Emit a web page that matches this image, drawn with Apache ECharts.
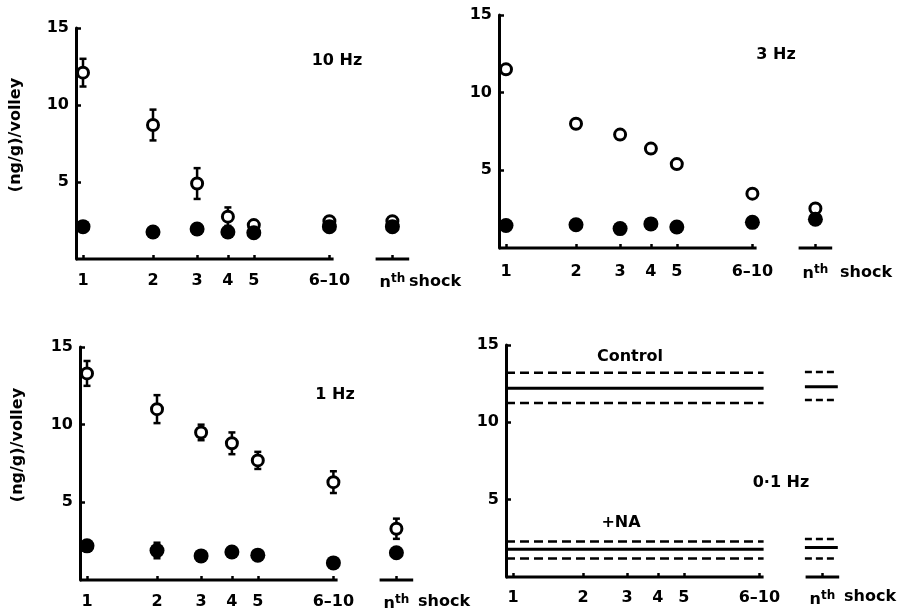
<!DOCTYPE html>
<html><head><meta charset="utf-8">
<script src="https://cdn.jsdelivr.net/npm/echarts@6/dist/echarts.min.js"></script>
<style>html,body{margin:0;padding:0;background:#fff}#c{width:901px;height:608px}</style>
</head><body><div id="c"></div>
<script>
// ---- categories / axis ----
const shockLabels = ['1', '2', '3', '4', '5', '6–10', 'nth shock'];
const shockAxisPos = [1, 2, 2.63, 3.07, 3.44, 4.52, 5.42];
const yTicks = [5, 10, 15];

// ---- 10 Hz ----
const hz10Open = [12.1, 8.7, 4.9, 2.75, 2.2, 2.45, 2.45];
const hz10OpenErr = [0.9, 1.0, 1.0, 0.6, 0, 0, 0];
const hz10Filled = [2.1, 1.75, 1.95, 1.75, 1.7, 2.1, 2.1];
const hz10FilledErr = [0, 0, 0, 0, 0, 0, 0];
// ---- 3 Hz ----
const hz3Open = [11.5, 8.0, 7.3, 6.4, 5.4, 3.5, 2.55];
const hz3OpenErr = [0, 0, 0, 0, 0, 0, 0];
const hz3Filled = [1.45, 1.5, 1.25, 1.55, 1.35, 1.65, 1.85];
const hz3FilledErr = [0, 0, 0, 0, 0, 0, 0];
// ---- 1 Hz ----
const hz1Open = [13.3, 11.0, 9.5, 8.8, 7.7, 6.3, 3.3];
const hz1OpenErr = [0.8, 0.9, 0.5, 0.7, 0.55, 0.7, 0.65];
const hz1Filled = [2.2, 1.9, 1.55, 1.8, 1.6, 1.1, 1.75];
const hz1FilledErr = [0, 0.5, 0, 0, 0, 0, 0];
// ---- 0.1 Hz (upper, mean, lower) ----
const controlBand = [13.2, 12.2, 11.25];
const controlBandNth = [13.25, 12.3, 11.45];
const naBand = [2.3, 1.8, 1.2];
const naBandNth = [2.45, 1.9, 1.2];

const FONT = 'DejaVu Sans';
const xMin = 0.9, xMax = 6.0;
const grids = [
  {left: 76, top: 28, width: 357, height: 231, outerBoundsMode: 'none'},
  {left: 499, top: 15, width: 357, height: 233, outerBoundsMode: 'none'},
  {left: 80, top: 347, width: 357, height: 233, outerBoundsMode: 'none'},
  {left: 506, top: 345, width: 357, height: 232, outerBoundsMode: 'none'}
];
const labelMargins = [14, 16, 14, 13];

function labelFor(v) {
  for (let i = 0; i < shockAxisPos.length; i++) {
    if (Math.abs(shockAxisPos[i] - v) < 1e-6) {
      if (i === 6) return '{b|n}{s|th}';
      return '{b|' + shockLabels[i] + '}';
    }
  }
  return '';
}

const xAxes = grids.map((g, i) => ({
  type: 'value', gridIndex: i, min: xMin, max: xMax,
  axisLine: {show: false},
  splitLine: {show: false},
  axisTick: {show: true, inside: true, length: 4, customValues: shockAxisPos,
    lineStyle: {color: '#000', width: 2.5}},
  axisLabel: {
    customValues: shockAxisPos, margin: labelMargins[i], formatter: labelFor, hideOverlap: false,
    rich: {
      b: {fontFamily: FONT, fontWeight: 'bold', fontSize: 16, color: '#000'},
      s: {fontFamily: FONT, fontWeight: 'bold', fontSize: 12, color: '#000', padding: [0, 0, 8, 0]}
    }
  }
}));
const yAxes = grids.map((g, i) => ({
  type: 'value', gridIndex: i, min: 0, max: 15, interval: 5,
  axisLine: {show: true, lineStyle: {color: '#000', width: 3}},
  splitLine: {show: false},
  axisTick: {show: true, inside: true, length: 5, customValues: yTicks,
    lineStyle: {color: '#000', width: 2.5}},
  axisLabel: {customValues: yTicks, margin: 7, color: '#000',
    fontFamily: FONT, fontWeight: 'bold', fontSize: 16}
}));

const series = [];
function errSeries(idx, vals, errs) {
  const data = [];
  vals.forEach((v, i) => { if (errs[i] > 0) data.push([shockAxisPos[i], v - errs[i], v + errs[i]]); });
  series.push({
    type: 'custom', xAxisIndex: idx, yAxisIndex: idx, z: 2, silent: true,
    data: data,
    renderItem: function (params, api) {
      const x = api.value(0);
      const lo = api.coord([x, api.value(1)]);
      const hi = api.coord([x, api.value(2)]);
      const w = 3.5;
      const st = {stroke: '#000', lineWidth: 2.5};
      return {type: 'group', children: [
        {type: 'line', shape: {x1: lo[0], y1: lo[1], x2: hi[0], y2: hi[1]}, style: st},
        {type: 'line', shape: {x1: lo[0] - w, y1: lo[1], x2: lo[0] + w, y2: lo[1]}, style: st},
        {type: 'line', shape: {x1: hi[0] - w, y1: hi[1], x2: hi[0] + w, y2: hi[1]}, style: st}
      ]};
    }
  });
}
function pointSeries(idx, vals, open) {
  series.push({
    type: 'scatter', xAxisIndex: idx, yAxisIndex: idx, silent: true,
    z: open ? 3 : 4,
    symbol: 'circle', symbolSize: open ? 11 : 15,
    itemStyle: open ? {color: '#fff', borderColor: '#000', borderWidth: 3, opacity: 1}
                    : {color: '#000', opacity: 1},
    data: vals.map((v, i) => [shockAxisPos[i], v])
  });
}
function axisSegments(idx) {
  const common = {type: 'line', xAxisIndex: idx, yAxisIndex: idx, symbol: 'none', silent: true,
    clip: false, z: 5, lineStyle: {color: '#000', width: 3}};
  series.push(Object.assign({}, common, {data: [[xMin, 0], [shockAxisPos[5] + 0.06, 0]]}));
  series.push(Object.assign({}, common, {data: [[shockAxisPos[6] - 0.24, 0], [shockAxisPos[6] + 0.24, 0]]}));
}
function bandSeries(idx, band, bandNth) {
  band.forEach((v, k) => {
    const dashed = k !== 1;
    const ls = {color: '#000', width: dashed ? 2.5 : 3, type: dashed ? [9, 5] : 'solid'};
    series.push({type: 'line', xAxisIndex: idx, yAxisIndex: idx, symbol: 'none', silent: true,
      lineStyle: ls, data: [[xMin, v], [shockAxisPos[5] + 0.06, v]]});
    series.push({type: 'line', xAxisIndex: idx, yAxisIndex: idx, symbol: 'none', silent: true,
      lineStyle: Object.assign({}, ls, {type: dashed ? [7, 4] : 'solid'}),
      data: [[shockAxisPos[6] - 0.25, bandNth[k]], [shockAxisPos[6] + 0.22, bandNth[k]]]});
  });
}

errSeries(0, hz10Open, hz10OpenErr); errSeries(0, hz10Filled, hz10FilledErr);
pointSeries(0, hz10Open, true); pointSeries(0, hz10Filled, false); axisSegments(0);
errSeries(1, hz3Open, hz3OpenErr); errSeries(1, hz3Filled, hz3FilledErr);
pointSeries(1, hz3Open, true); pointSeries(1, hz3Filled, false); axisSegments(1);
errSeries(2, hz1Open, hz1OpenErr); errSeries(2, hz1Filled, hz1FilledErr);
pointSeries(2, hz1Open, true); pointSeries(2, hz1Filled, false); axisSegments(2);
bandSeries(3, controlBand, controlBandNth); bandSeries(3, naBand, naBandNth); axisSegments(3);

function txt(text, x, y, rot, align) {
  return {type: 'text', x: x, y: y, rotation: rot || 0, silent: true,
    style: {text: text, fill: '#000', font: 'bold 16px "' + FONT + '"', align: align || 'center', verticalAlign: 'middle'}};
}

const chart = echarts.init(document.getElementById('c'), null, {renderer: 'canvas'});
chart.setOption({
  animation: false,
  backgroundColor: '#fff',
  grid: grids,
  xAxis: xAxes,
  yAxis: yAxes,
  series: series,
  graphic: [
    txt('(ng/g)/volley', 16, 135, Math.PI / 2),
    txt('(ng/g)/volley', 18, 445, Math.PI / 2),
    txt('10 Hz', 337, 61),
    txt('3 Hz', 776, 55),
    txt('1 Hz', 335, 395),
    txt('0·1 Hz', 781, 483),
    txt('Control', 630, 357),
    txt('+NA', 621, 523),
    txt('shock', 409, 282, 0, 'left'),
    txt('shock', 840, 273, 0, 'left'),
    txt('shock', 418, 602, 0, 'left'),
    txt('shock', 844, 597, 0, 'left')
  ]
});
</script></body></html>
